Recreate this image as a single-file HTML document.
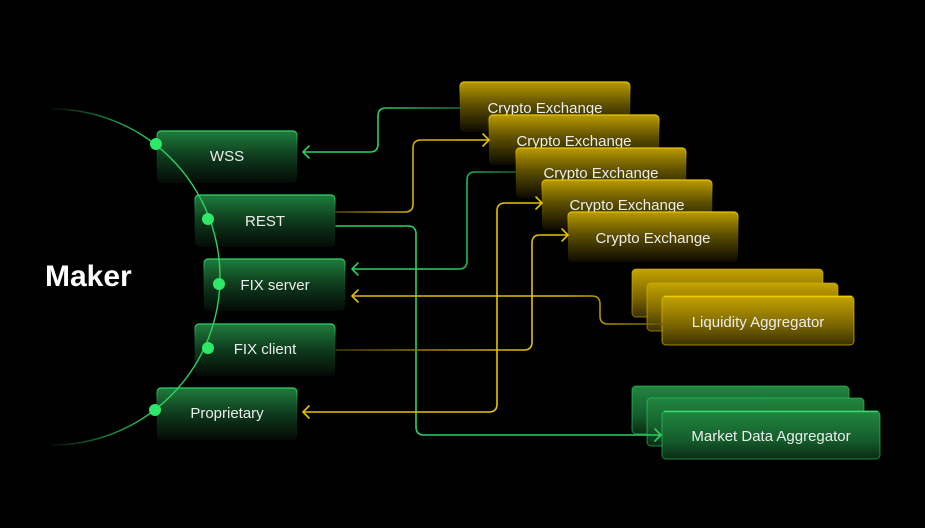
<!DOCTYPE html>
<html><head><meta charset="utf-8"><style>
html,body{margin:0;padding:0;background:#000;}
svg{display:block;}
text{font-family:"Liberation Sans",sans-serif;}
</style></head><body>
<svg width="925" height="528" viewBox="0 0 925 528" xmlns="http://www.w3.org/2000/svg">
<defs>
  <linearGradient id="gold" x1="0" y1="0" x2="0" y2="1">
    <stop offset="0" stop-color="#b99a00"/>
    <stop offset="0.45" stop-color="#5e4f00"/>
    <stop offset="1" stop-color="#0c0a00"/>
  </linearGradient>
  <linearGradient id="goldS" x1="0" y1="0" x2="0" y2="1">
    <stop offset="0" stop-color="#e8c600"/>
    <stop offset="0.3" stop-color="#8a7300" stop-opacity="0.5"/>
    <stop offset="1" stop-color="#000" stop-opacity="0"/>
  </linearGradient>
  <linearGradient id="goldL" x1="0" y1="0" x2="0" y2="1">
    <stop offset="0" stop-color="#c4a300"/>
    <stop offset="0.6" stop-color="#7a6500"/>
    <stop offset="1" stop-color="#3a3000"/>
  </linearGradient>
  <linearGradient id="green" x1="0" y1="0" x2="0" y2="1">
    <stop offset="0" stop-color="#1f7c3c"/>
    <stop offset="0.5" stop-color="#0e3a1c"/>
    <stop offset="1" stop-color="#040a06"/>
  </linearGradient>
  <linearGradient id="greenS" x1="0" y1="0" x2="0" y2="1">
    <stop offset="0" stop-color="#2fd365"/>
    <stop offset="0.3" stop-color="#1a7a3a" stop-opacity="0.5"/>
    <stop offset="1" stop-color="#000" stop-opacity="0"/>
  </linearGradient>
  <linearGradient id="greenM" x1="0" y1="0" x2="0" y2="1">
    <stop offset="0" stop-color="#20863f"/>
    <stop offset="0.6" stop-color="#155e2c"/>
    <stop offset="1" stop-color="#0a2a14"/>
  </linearGradient>
  <linearGradient id="arc" gradientUnits="userSpaceOnUse" x1="45" y1="0" x2="150" y2="0">
    <stop offset="0" stop-color="#2bd160" stop-opacity="0"/>
    <stop offset="1" stop-color="#2bd160"/>
  </linearGradient>
  <linearGradient id="l1" gradientUnits="userSpaceOnUse" x1="460" y1="0" x2="380" y2="0">
    <stop offset="0" stop-color="#1a7038"/>
    <stop offset="1" stop-color="#2bd160"/>
  </linearGradient>
  <linearGradient id="l2" gradientUnits="userSpaceOnUse" x1="336" y1="0" x2="460" y2="0">
    <stop offset="0" stop-color="#5a4a00"/>
    <stop offset="0.6" stop-color="#d4b000"/>
    <stop offset="1" stop-color="#e6c200"/>
  </linearGradient>
  <linearGradient id="l4" gradientUnits="userSpaceOnUse" x1="516" y1="0" x2="450" y2="0">
    <stop offset="0" stop-color="#176030"/>
    <stop offset="1" stop-color="#2bd160"/>
  </linearGradient>
  <linearGradient id="l5" gradientUnits="userSpaceOnUse" x1="662" y1="0" x2="560" y2="0">
    <stop offset="0" stop-color="#6a5700"/>
    <stop offset="1" stop-color="#e0bc00"/>
  </linearGradient>
  <linearGradient id="l6" gradientUnits="userSpaceOnUse" x1="336" y1="0" x2="540" y2="0">
    <stop offset="0" stop-color="#4a3d00"/>
    <stop offset="0.8" stop-color="#d8b400"/>
    <stop offset="1" stop-color="#e6c200"/>
  </linearGradient>
</defs>

<!-- crypto exchange boxes -->
<g>
  <rect x="460" y="82" width="170" height="50" rx="4" fill="url(#gold)" stroke="url(#goldS)" stroke-width="1.2"/>
  <text x="545" y="113" font-size="15" fill="#ececec" text-anchor="middle">Crypto Exchange</text>
  <rect x="489" y="115" width="170" height="50" rx="4" fill="url(#gold)" stroke="url(#goldS)" stroke-width="1.2"/>
  <text x="574" y="146" font-size="15" fill="#ececec" text-anchor="middle">Crypto Exchange</text>
  <rect x="516" y="148" width="170" height="50" rx="4" fill="url(#gold)" stroke="url(#goldS)" stroke-width="1.2"/>
  <text x="601" y="178" font-size="15" fill="#ececec" text-anchor="middle">Crypto Exchange</text>
  <rect x="542" y="180" width="170" height="50" rx="4" fill="url(#gold)" stroke="url(#goldS)" stroke-width="1.2"/>
  <text x="627" y="210" font-size="15" fill="#ececec" text-anchor="middle">Crypto Exchange</text>
  <rect x="568" y="212" width="170" height="50" rx="4" fill="url(#gold)" stroke="url(#goldS)" stroke-width="1.2"/>
  <text x="653" y="243" font-size="15" fill="#ececec" text-anchor="middle">Crypto Exchange</text>
</g>

<!-- liquidity aggregator stack -->
<g>
  <rect x="632" y="269" width="191" height="48" rx="4" fill="url(#goldL)" stroke="#d8b600" stroke-opacity="0.6" stroke-width="1"/>
  <rect x="647" y="283" width="191" height="48" rx="4" fill="url(#goldL)" stroke="#d8b600" stroke-opacity="0.6" stroke-width="1"/>
  <rect x="662" y="296" width="192" height="49" rx="4" fill="url(#goldL)" stroke="#e0bd00" stroke-opacity="0.7" stroke-width="1"/>
  <line x1="664" y1="296.5" x2="852" y2="296.5" stroke="#f0cc00" stroke-width="1.4"/>
  <text x="758" y="327" font-size="15" fill="#ececec" text-anchor="middle">Liquidity Aggregator</text>
</g>

<!-- market data aggregator stack -->
<g>
  <rect x="632" y="386" width="217" height="48" rx="4" fill="url(#greenM)" stroke="#2fd365" stroke-opacity="0.6" stroke-width="1"/>
  <rect x="647" y="398" width="217" height="48" rx="4" fill="url(#greenM)" stroke="#2fd365" stroke-opacity="0.6" stroke-width="1"/>
  <rect x="662" y="411" width="218" height="48" rx="4" fill="url(#greenM)" stroke="#2fd365" stroke-opacity="0.6" stroke-width="1"/>
  <line x1="664" y1="411.5" x2="878" y2="411.5" stroke="#35dc6c" stroke-width="1.4"/>
  <text x="771" y="441" font-size="15" fill="#ececec" text-anchor="middle">Market Data Aggregator</text>
</g>

<!-- left nodes -->
<g>
  <rect x="157" y="131" width="140" height="52" rx="4" fill="url(#green)" stroke="url(#greenS)" stroke-width="1.2"/>
  <text x="227" y="161" font-size="15" fill="#ececec" text-anchor="middle">WSS</text>
  <rect x="195" y="195" width="140" height="52" rx="4" fill="url(#green)" stroke="url(#greenS)" stroke-width="1.2"/>
  <text x="265" y="226" font-size="15" fill="#ececec" text-anchor="middle">REST</text>
  <rect x="204" y="259" width="141" height="52" rx="4" fill="url(#green)" stroke="url(#greenS)" stroke-width="1.2"/>
  <text x="275" y="290" font-size="15" fill="#ececec" text-anchor="middle">FIX server</text>
  <rect x="195" y="324" width="140" height="52" rx="4" fill="url(#green)" stroke="url(#greenS)" stroke-width="1.2"/>
  <text x="265" y="354" font-size="15" fill="#ececec" text-anchor="middle">FIX client</text>
  <rect x="157" y="388" width="140" height="52" rx="4" fill="url(#green)" stroke="url(#greenS)" stroke-width="1.2"/>
  <text x="227" y="418" font-size="15" fill="#ececec" text-anchor="middle">Proprietary</text>
</g>

<!-- connectors (on top of boxes) -->
<g fill="none" stroke-width="1.6" stroke-linecap="round" stroke-linejoin="round">
  <path d="M460 108 H386 Q378 108 378 116 V144 Q378 152 370 152 H304" stroke="url(#l1)"/>
  <polyline points="309,146 303,152 309,158" stroke="#2bd160"/>

  <path d="M336 212 H405 Q413 212 413 204 V148 Q413 140 421 140 H488" stroke="url(#l2)"/>
  <polyline points="483,134 489,140 483,146" stroke="#e6c200"/>

  <path d="M336 226 H408 Q416 226 416 234 V427 Q416 435 424 435 H660" stroke="#2bd160"/>
  <polyline points="655,429 661,435 655,441" stroke="#2bd160"/>

  <path d="M516 172 H475 Q467 172 467 180 V261 Q467 269 459 269 H353" stroke="url(#l4)"/>
  <polyline points="358,263 352,269 358,275" stroke="#2bd160"/>

  <path d="M662 324 H608 Q600 324 600 316 V304 Q600 296 592 296 H353" stroke="url(#l5)"/>
  <polyline points="358,290 352,296 358,302" stroke="#e0bc00"/>

  <path d="M336 350 H524 Q532 350 532 342 V243 Q532 235 540 235 H567" stroke="url(#l6)"/>
  <polyline points="562,229 568,235 562,241" stroke="#e6c200"/>

  <path d="M304 412 H489 Q497 412 497 404 V211 Q497 203 505 203 H541" stroke="#e6c200"/>
  <polyline points="536,197 542,203 536,209" stroke="#e6c200"/>
  <polyline points="309,406 303,412 309,418" stroke="#e6c200"/>
</g>

<!-- arc -->
<path d="M52 109 A168 168 0 0 1 52 445" fill="none" stroke="url(#arc)" stroke-width="1.4"/>
<g fill="#2ee86a">
  <circle cx="156" cy="144" r="6"/>
  <circle cx="208" cy="219" r="6"/>
  <circle cx="219" cy="284" r="6"/>
  <circle cx="208" cy="348" r="6"/>
  <circle cx="155" cy="410" r="6"/>
</g>

<text x="45" y="286" font-size="30" font-weight="bold" fill="#ffffff">Maker</text>
</svg>
</body></html>
